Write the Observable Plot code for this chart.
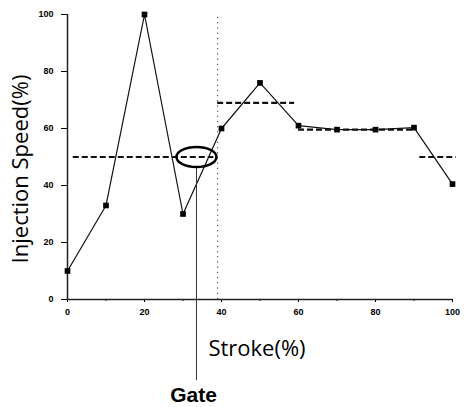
<!DOCTYPE html>
<html>
<head>
<meta charset="utf-8">
<script src="https://cdn.jsdelivr.net/npm/d3@7"></script>
<script src="https://cdn.jsdelivr.net/npm/@observablehq/plot@0.6"></script>
<style>
  html, body { margin: 0; padding: 0; background: #fff; }
  #chart { width: 467px; height: 407px; }
</style>
</head>
<body>
<div id="chart"></div>
<script>
// Measured series
const stroke = [0, 10, 20, 30, 40, 50, 60, 70, 80, 90, 100];
const speed  = [10, 33, 100, 30, 60, 76, 61, 59.6, 59.6, 60.3, 40.5];

// Dashed reference levels (segments)
const refLevel = [50, 69, 59.6, 50];
const refStart = [1.5, 39, 60, 91.5];
const refEnd   = [38, 59, 90, 101];

// Vertical dotted boundary
const boundaryX = [39];

// Gate annotation
const gateX = [33.5];
const gateY = [50];
const gateTop = [46];
const gateBottom = [-28.5];

// Ticks
const majorTicks = [0, 20, 40, 60, 80, 100];
const minorTicks = [10, 30, 50, 70, 90];

const points = stroke.map((s, i) => ({ stroke: s, speed: speed[i] }));
const refs = refLevel.map((v, i) => ({ y: v, x1: refStart[i], x2: refEnd[i] }));
const gate = gateX.map((x, i) => ({ x, y: gateY[i], y1: gateTop[i], y2: gateBottom[i] }));

// ellipse symbol for the gate highlight
const ellipseSymbol = {
  draw(ctx) {
    const rx = 20, ry = 10, k = 0.5523;
    ctx.moveTo(rx, 0);
    ctx.bezierCurveTo(rx, ry * k, rx * k, ry, 0, ry);
    ctx.bezierCurveTo(-rx * k, ry, -rx, ry * k, -rx, 0);
    ctx.bezierCurveTo(-rx, -ry * k, -rx * k, -ry, 0, -ry);
    ctx.bezierCurveTo(rx * k, -ry, rx, -ry * k, rx, 0);
    ctx.closePath();
  }
};

const tickFont = { fontSize: 9, fontWeight: "bold", fontFamily: "Arial, Liberation Sans, sans-serif" };

const chart = Plot.plot({
  width: 467,
  height: 407,
  marginLeft: 67,
  marginRight: 15,
  marginTop: 14,
  marginBottom: 108,
  style: { background: "#fff", color: "#000" },
  x: { domain: [0, 100] },
  y: { domain: [0, 100] },
  marks: [
    // axes
    Plot.axisX({ ticks: majorTicks, tickSize: 3, tickPadding: 6, label: null, ...tickFont }),
    Plot.axisX({ ticks: minorTicks, tickSize: 2, tickFormat: () => "", label: null }),
    Plot.axisY({ ticks: majorTicks, tickSize: 6, tickPadding: 8, label: null, ...tickFont }),
    Plot.ruleY([0], { stroke: "#222", strokeWidth: 1.5 }),
    Plot.ruleX([0], { stroke: "#222", strokeWidth: 1.5 }),

    // vertical dotted boundary
    Plot.ruleX(boundaryX, { y1: 0, y2: 100, stroke: "#333", strokeWidth: 1, strokeDasharray: "1.2,4" }),

    // dashed reference levels
    Plot.ruleY(refs, { y: "y", x1: "x1", x2: "x2", stroke: "#111", strokeWidth: 2.2, strokeDasharray: "6,3" }),

    // data
    Plot.line(points, { x: "stroke", y: "speed", stroke: "#111", strokeWidth: 1.2 }),
    Plot.dot(points, { x: "stroke", y: "speed", symbol: "square", r: 3.2, fill: "#000", stroke: "none" }),

    // gate annotation
    Plot.dot(gate, { x: "x", y: "y", symbol: ellipseSymbol, fill: "none", stroke: "#000", strokeWidth: 2.5 }),
    Plot.ruleX(gate, { x: "x", y1: "y1", y2: "y2", stroke: "#333", strokeWidth: 1 }),
    Plot.text(gate, { x: "x", frameAnchor: "bottom", text: () => "Gate", dx: -3, dy: 96,
      textAnchor: "middle", lineAnchor: "middle",
      fontSize: 21, fontWeight: "bold", fontFamily: "Arial, Liberation Sans, sans-serif", fill: "#000" }),

    // axis titles
    Plot.text(["Stroke(%)"], { frameAnchor: "bottom", text: d => d, dx: -3, dy: 49,
      textAnchor: "middle", lineAnchor: "middle",
      fontSize: 22, fontFamily: "Open Sans, sans-serif", fill: "#000" }),
    Plot.text(["Injection Speed(%)"], { frameAnchor: "left", text: d => d, rotate: -90, dx: -47, dy: 12,
      textAnchor: "middle", lineAnchor: "middle",
      fontSize: 22, fontFamily: "Open Sans, sans-serif", fill: "#000" })
  ]
});
document.getElementById("chart").appendChild(chart);
</script>
</body>
</html>
